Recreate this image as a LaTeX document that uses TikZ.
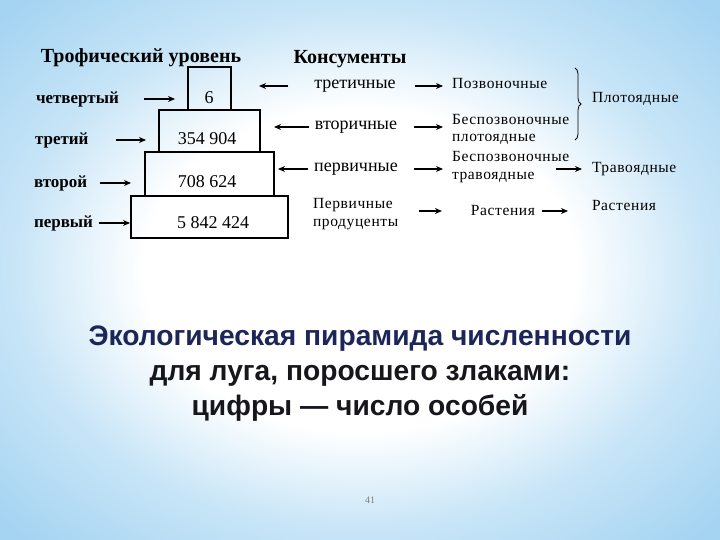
\documentclass[tikz,border=0pt]{standalone}
\usepackage{fontspec}
\setmainfont{Liberation Serif}
\newfontfamily\capfont{Liberation Sans}
\usetikzlibrary{positioning,arrows.meta,decorations.pathreplacing}
\definecolor{bgblue}{RGB}{200,229,247}
\definecolor{bgdeep}{RGB}{165,212,242}
\definecolor{capblue}{RGB}{28,38,88}
\definecolor{capblack}{RGB}{22,22,28}
\pgfdeclareradialshading{slidebg}{\pgfpoint{0bp}{0bp}}{color(0bp)=(white); color(15bp)=(white); color(24bp)=(bgblue); color(34bp)=(bgdeep); color(50bp)=(bgdeep)}

\begin{document}
\begin{tikzpicture}[x=1pt,y=-1pt,
	every node/.style={inner sep=0pt, outer sep=0pt},
	lvlbox/.style={draw, line width=2pt},
	num/.style={font=\fontsize{18}{20}\selectfont},
	lvl/.style={font=\bfseries\fontsize{17}{19}\selectfont, anchor=west},
	head/.style={font=\bfseries\fontsize{20}{22}\selectfont},
	cons/.style={font=\fontsize{18}{20}\selectfont},
	small/.style={font=\fontsize{15.5}{17.5}\selectfont\addfontfeatures{LetterSpace=4}, align=left, anchor=west},
	arr/.style={-{Stealth[length=7pt,width=6pt]}, line width=1.8pt}]
	
	\useasboundingbox (0,0) rectangle (720,540);
	\fill[shading=slidebg] (0,0) rectangle (720,540);
	
	\node[head] (h1) at (141,58) {Трофический уровень};
	\node[head] (h2) at (350,59) {Консументы};
	
	\node[lvlbox, minimum width=157pt, minimum height=42pt] (b1) at (209.5,217) {};
	\node[lvlbox, minimum width=129pt, minimum height=44pt, above=0pt of b1] (b2) {};
	\node[lvlbox, minimum width=101pt, minimum height=42pt, above=0pt of b2] (b3) {};
	\node[lvlbox, minimum width=43pt, minimum height=43pt, above=0pt of b3] (b4) {};
	\node[num] (n4) at (209,98) {6};
	\node[num] (n3) at (207,139) {354 904};
	\node[num] (n2) at (207,182) {708 624};
	\node[num] (n1) at (213,223) {5 842 424};
	
	\node[lvl] (l4) at (36,99) {четвертый};
	\node[lvl] (l3) at (35,140) {третий};
	\node[lvl] (l2) at (34,183) {второй};
	\node[lvl] (l1) at (34,223) {первый};
	\draw[arr, shorten <=25pt, shorten >=13pt] (l4.east) -- (b4.west |- l4.east);
	\draw[arr, shorten <=27pt, shorten >=13pt] (l3.east) -- (b3.west |- l3.east);
	\draw[arr, shorten <=13pt, shorten >=14pt] (l2.east) -- (b2.west |- l2.east);
	\draw[arr, shorten <=6pt, shorten >=1pt] (l1.east) -- (b1.west |- l1.east);
	
	\node[cons] (c3) at (355,86) {третичные};
	\node[cons] (c2) at (356,127) {вторичные};
	\node[cons] (c1) at (356,169) {первичные};
	\node[small] (c0) at (313,214) {Первичные\\продуценты};
	\draw[arr, shorten <=26pt, shorten >=28pt] (c3.west) -- (b4.east |- c3.west);
	\draw[arr, shorten <=6pt, shorten >=14pt] (c2.west) -- (b3.east |- c2.west);
	\draw[arr, shorten <=6pt, shorten >=4pt] (c1.west) -- (b2.east |- c1.west);
	
	\node[small] (a3) at (452,84) {Позвоночные};
	\node[small] (a2) at (452,129.5) {Беспозвоночные\\плотоядные};
	\node[small] (a1) at (452,167) {Беспозвоночные\\травоядные};
	\node[small, anchor=center] (p0) at (503,211) {Растения};
	\draw[arr, shorten <=19pt, shorten >=9pt] (c3.east) -- (a3.west |- c3.east);
	\draw[arr, shorten <=17pt, shorten >=9pt] (c2.east) -- (a2.west |- c2.east);
	\draw[arr, shorten <=16pt, shorten >=9pt] (c1.east) -- (a1.west |- c1.east);
	\draw[arr, shorten <=21pt, shorten >=29pt] (c0.east |- p0.west) -- (p0.west);
	
	\node[small] (t3) at (592,99) {Плотоядные};
	\node[small] (t1) at (592,169) {Травоядные};
	\node[small] (r0) at (592,206) {Растения};
	\draw[decorate, decoration={brace, amplitude=6pt}, line width=0.8pt] (575,68) -- (575,140);
	\draw[arr, shorten >=10pt] ([xshift=-13pt]a1.east |- t1.west) -- (t1.west);
	\draw[arr, shorten <=7pt, shorten >=24pt] (p0.east) -- (r0.west |- p0.east);
	
	\node[align=center, font=\capfont\bfseries\fontsize{28.2}{35}\selectfont, text=capblack] (cap) at (360,374)
		{{\color{capblue}Экологическая пирамида численности}\\для луга, поросшего злаками:\\цифры — число особей};
	\node[font=\fontsize{10}{12}\selectfont, text=gray] (pg) at (370,500) {41};
	
\end{tikzpicture}
\end{document}
